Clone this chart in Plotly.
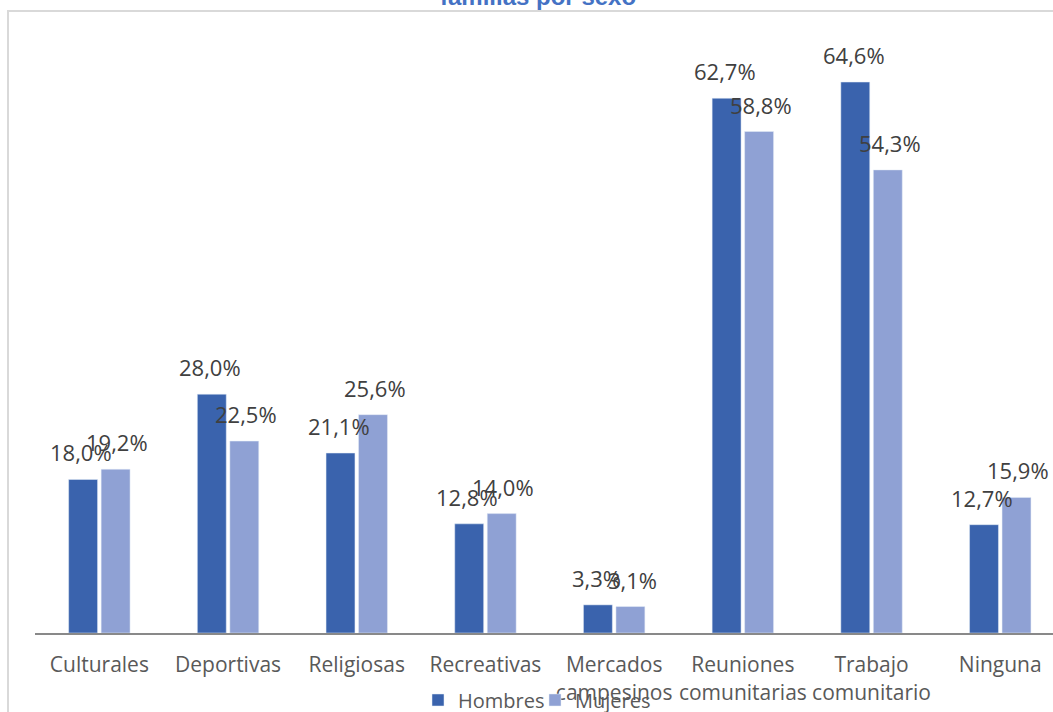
import plotly.graph_objects as go

categories = ["Culturales", "Deportivas", "Religiosas", "Recreativas",
              "Mercados<br>campesinos", "Reuniones<br>comunitarias",
              "Trabajo<br>comunitario", "Ninguna"]
hombres = [18.0, 28.0, 21.1, 12.8, 3.3, 62.7, 64.6, 12.7]
mujeres = [19.2, 22.5, 25.6, 14.0, 3.1, 58.8, 54.3, 15.9]
title_text = "familias por sexo"

C_H = "#3A63AD"
C_M = "#8FA1D4"
FONT = "Open Sans"

fig = go.Figure()
fig.add_trace(go.Bar(name="Hombres", x=categories, y=hombres, marker_color=C_H))
fig.add_trace(go.Bar(name="Mujeres", x=categories, y=mujeres, marker_color=C_M))

def fmt(v):
    return f"{v:.1f}".replace(".", ",") + "%"

annotations = []
for cat, h, m in zip(categories, hombres, mujeres):
    for val, shift in ((h, -18), (m, 18)):
        annotations.append(dict(x=cat, y=val, xref="x", yref="y", text=fmt(val),
                                showarrow=False, xshift=shift, yshift=27,
                                yanchor="middle",
                                font=dict(family=FONT, size=22, color="#404040")))

annotations.append(dict(x=(538 - 35) / 1018, y=(633 - 12) / 597, xref="paper", yref="paper",
                        text=f"<b>{title_text}</b>", showarrow=False, yanchor="bottom",
                        font=dict(family="Liberation Sans", size=24, color="#4472C4")))

fig.update_layout(
    width=1053, height=712,
    margin=dict(l=35, r=0, t=36, b=79, autoexpand=False),
    paper_bgcolor="white", plot_bgcolor="white",
    barmode="group", bargap=0.495, bargroupgap=0.11,
    font=dict(family=FONT, size=21, color="#595959"),
    xaxis=dict(range=[-0.5, -0.5 + 1018 / 128.7], showline=True, linecolor="#898989",
               linewidth=2, showgrid=False, ticks="", ticklabelstandoff=12,
               automargin=False,
               tickfont=dict(family=FONT, size=21, color="#595959")),
    yaxis=dict(range=[0, 70], visible=False, showgrid=False, automargin=False),
    showlegend=True,
    legend=dict(orientation="h", x=(418 - 35) / 1018, xanchor="left",
                y=(633 - 700) / 597, yanchor="middle",
                itemwidth=30, entrywidth=72, entrywidthmode="pixels",
                bgcolor="rgba(0,0,0,0)",
                font=dict(family=FONT, size=20, color="#595959")),
    annotations=annotations,
    shapes=[dict(type="rect", xref="paper", yref="paper",
                 x0=(8 - 35) / 1018, x1=1.05, y0=-0.3, y1=(633 - 11) / 597,
                 line=dict(color="#D9D9D9", width=2), layer="below")],
)

fig.write_html("out.html", config={"displayModeBar": False},
               post_script="document.body.style.margin='0px';")
